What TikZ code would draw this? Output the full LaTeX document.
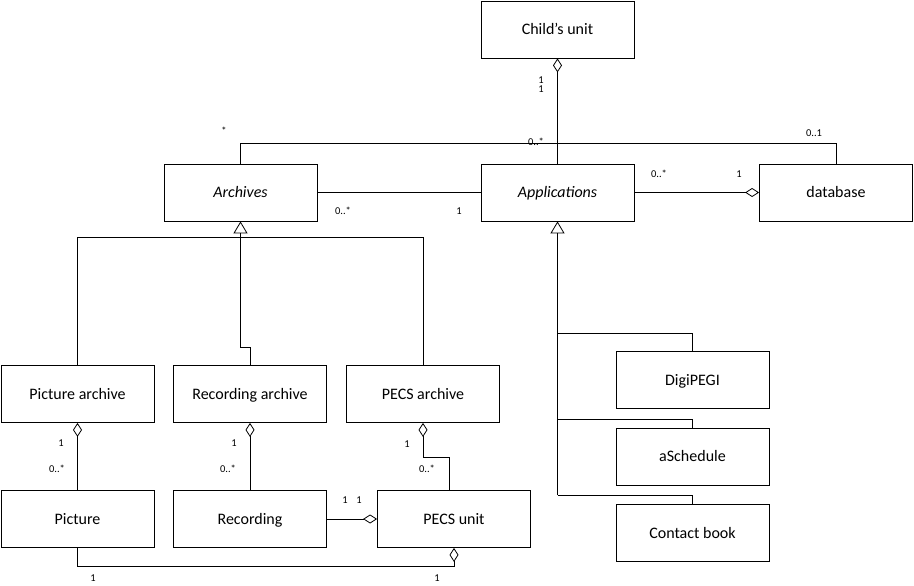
\documentclass[tikz,border=0pt]{standalone}
\usepackage{fontspec}
\setmainfont{Carlito}
\usetikzlibrary{arrows.meta}
\tikzset{
  cls/.style={draw, line width=0.8pt, minimum width=153pt, minimum height=57pt, inner sep=0pt, text height=11.5pt, text depth=1.5pt, font=\fontsize{16}{18}\selectfont},
  mult/.style={font=\fontsize{10.5}{12}\selectfont, inner sep=0pt},
  conn/.style={line width=0.8pt},
  agg/.style={conn, -{Diamond[open, length=14pt, width=9pt]}},
  gen/.style={conn, -{Triangle[open, length=12pt, width=14pt]}},
}
\begin{document}
\begin{tikzpicture}[x=1pt, y=-1pt]
\useasboundingbox (0,0) rectangle (914,586);
% classes
\node[cls] (child) at (557.5,29.5) {Child’s unit};
\node[cls] (arch) at (240.5,192.5) {\itshape Archives};
\node[cls] (apps) at (557.5,192.5) {\itshape Applications};
\node[cls] (db) at (836,192.5) {database};
\node[cls] (parch) at (77.5,394) {Picture archive};
\node[cls] (rarch) at (250,394) {Recording archive};
\node[cls] (pecsarch) at (423,394) {PECS archive};
\node[cls] (pic) at (77.5,519) {Picture};
\node[cls] (rec) at (250,519) {Recording};
\node[cls] (pecs) at (454,519) {PECS unit};
\node[cls] (digi) at (692.5,380) {DigiPEGI};
\node[cls] (asch) at (692.5,456.5) {aSchedule};
\node[cls] (cbook) at (692.5,533) {Contact book};
% helper coordinates
\coordinate (topbar) at (0,143);
\coordinate (genbar) at (0,237);
\coordinate (rbend) at (0,347);
\coordinate (pbend) at (0,457);
\coordinate (botbar) at (0,566);
\coordinate (dbar) at (0,333);
\coordinate (abar) at (0,419);
\coordinate (cbar) at (0,495);
% Applications - Child's unit (aggregation)
\draw[agg] (apps.north) -- (child.south);
\node[mult] (m1) at (541,80) {1};
\node[mult] (m2) at (541,89) {1};
% Archives - database top connector
\draw[conn] (arch.north) -- (arch.north |- topbar) -| (db.north);
\node[mult] (m3) at (224,131) {*};
\node[mult] (m4) at (536,142) {0..*};
\node[mult] (m5) at (814,133) {0..1};
% Archives - Applications
\draw[conn] (arch.east) -- (apps.west);
\node[mult] (m6) at (343,211) {0..*};
\node[mult] (m7) at (459,211) {1};
% Applications - database
\draw[agg] (apps.east) -- (db.west);
\node[mult] (m8) at (659,174) {0..*};
\node[mult] (m9) at (739,174) {1};
% generalization to Archives
\draw[conn] (parch.north) -- (parch.north |- genbar) -- (pecsarch.north |- genbar) -- (pecsarch.north);
\draw[gen] ([xshift=0.5pt]rarch.north) -- ([xshift=0.5pt]rarch.north |- rbend) -- (arch.south |- rbend) -- (arch.south);
% generalization to Applications
\draw[gen] (apps.south |- cbar) -- (apps.south);
\draw[conn] (apps.south |- dbar) -- (digi.north |- dbar) -- (digi.north);
\draw[conn] (apps.south |- abar) -- (asch.north |- abar) -- (asch.north);
\draw[conn] (apps.south |- cbar) -- (cbook.north |- cbar) -- (cbook.north);
% archive aggregations
\draw[agg] (pic.north) -- (parch.south);
\node[mult] (m10) at (61,443) {1};
\node[mult] (m11) at (57,469) {0..*};
\draw[agg] (rec.north) -- (rarch.south);
\node[mult] (m12) at (234,443) {1};
\node[mult] (m13) at (228,469) {0..*};
\draw[agg] ([xshift=-5pt]pecs.north) -- ([xshift=-5pt]pecs.north |- pbend) -- (pecsarch.south |- pbend) -- (pecsarch.south);
\node[mult] (m14) at (407,444) {1};
\node[mult] (m15) at (427,469) {0..*};
% Recording - PECS unit
\draw[agg] (rec.east) -- (pecs.west);
\node[mult] (m16) at (345,500) {1};
\node[mult] (m17) at (359,500) {1};
% Picture - PECS unit
\draw[agg] (pic.south) -- (pic.south |- botbar) -- (pecs.south |- botbar) -- (pecs.south);
\node[mult] (m18) at (93,578) {1};
\node[mult] (m19) at (437,578) {1};
\end{tikzpicture}
\end{document}
